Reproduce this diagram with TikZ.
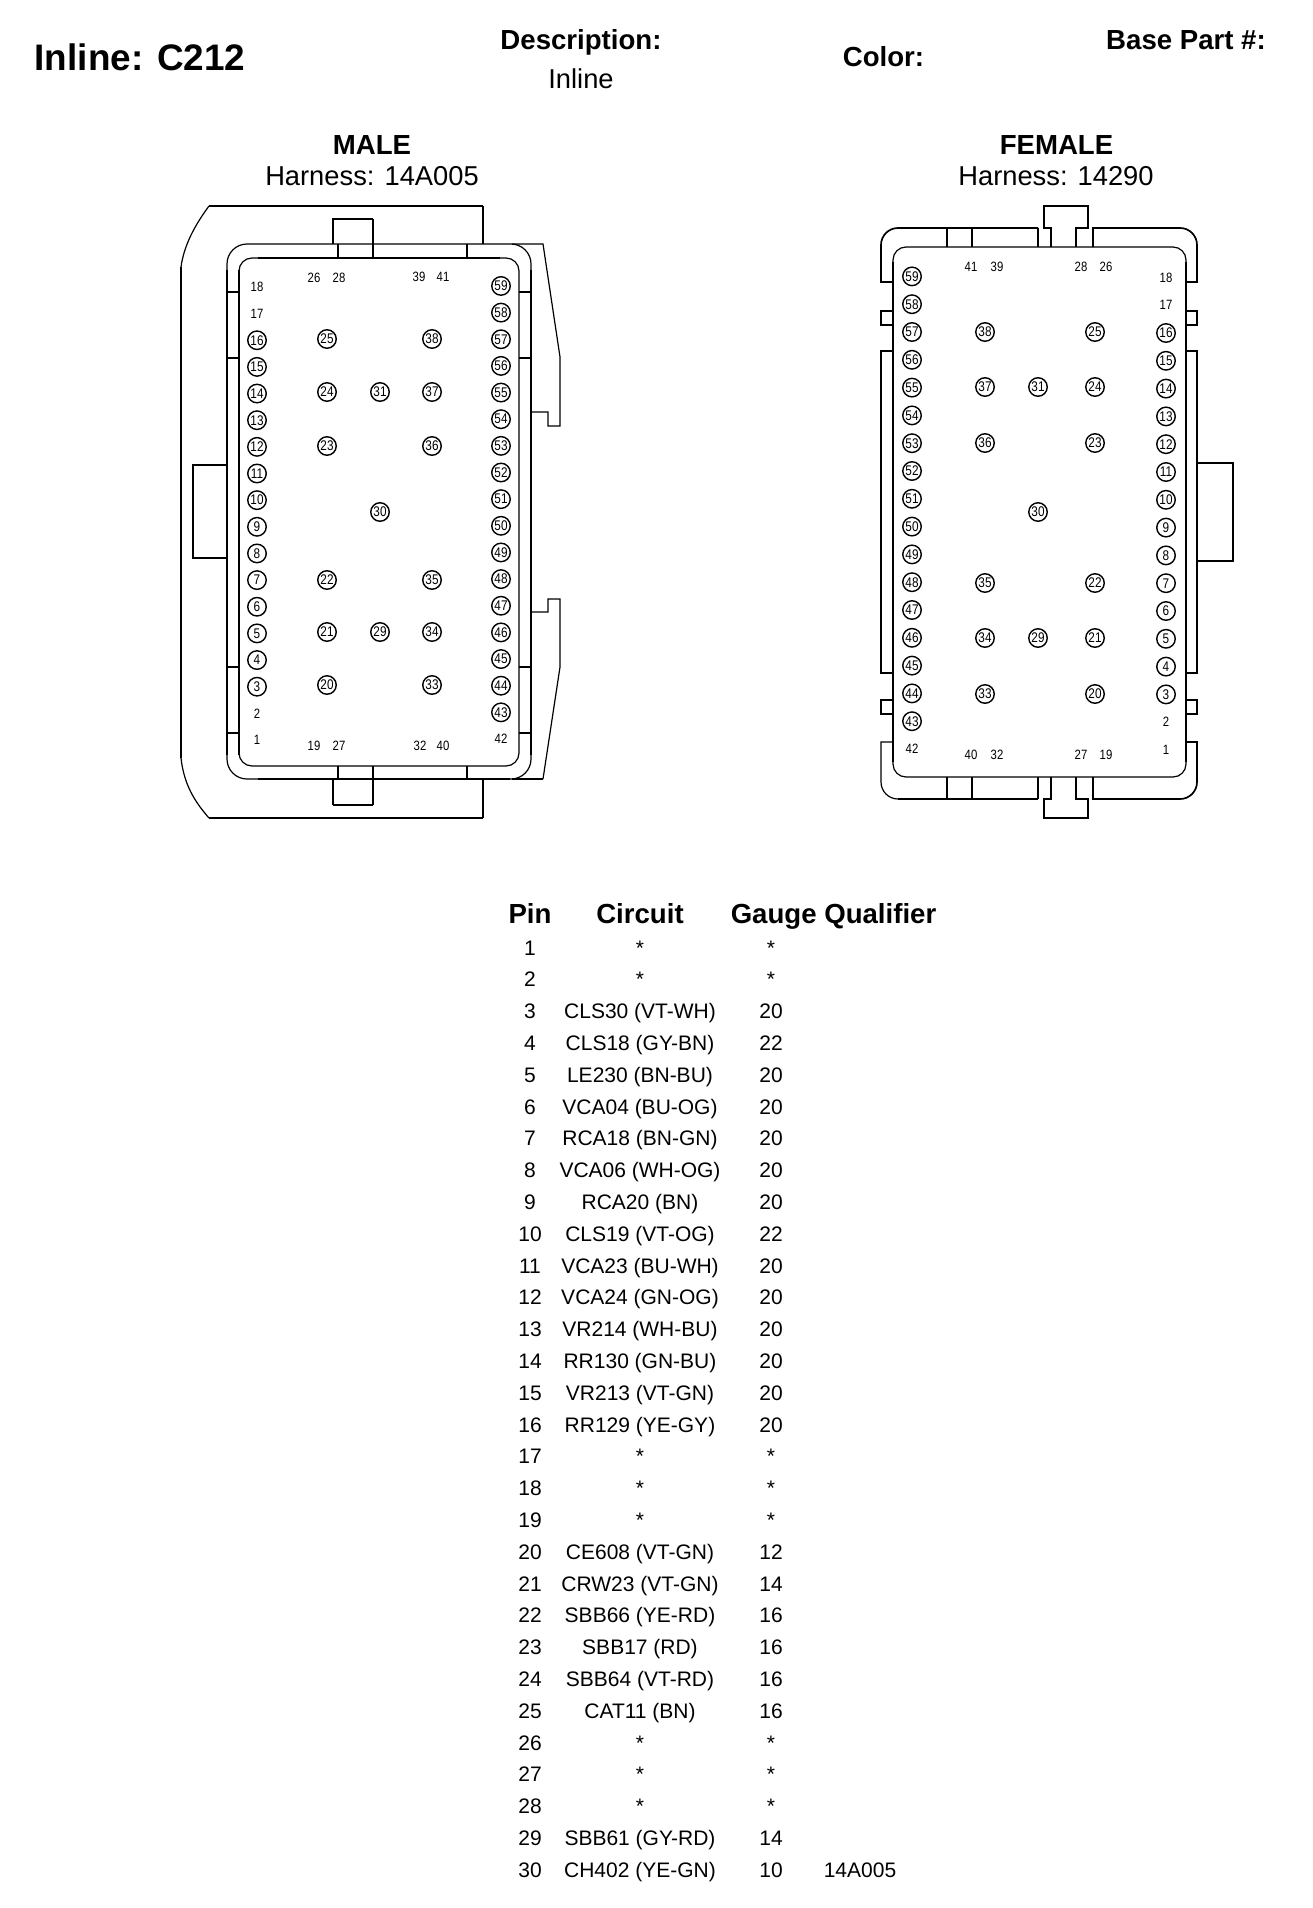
\documentclass[tikz,border=0pt]{standalone}
\usepackage{fontspec}
\usepackage{graphicx}
\setmainfont{Liberation Sans}
\newcommand{\fsz}[1]{\fontsize{#1}{#1}\selectfont}
\newcommand{\pintxt}[1]{\scalebox{0.84}[1]{#1}}
\tikzset{
  lbl/.style={inner sep=0pt,anchor=base},
  titletxt/.style={lbl,font=\fsz{36.9}\bfseries},
  headtxt/.style={lbl,font=\fsz{27.6}\bfseries},
  subtxt/.style={lbl,font=\fsz{27.3}},
  celltxt/.style={lbl,font=\fsz{21}},
  pinplain/.style={inner sep=0pt,font=\fsz{13.5}},
  pinring/.style={circle,draw,line width=1.4pt,minimum size=18.5pt,inner sep=0pt,font=\fsz{14}},
  ln/.style={line width=1.2pt,line join=miter},
  lnm/.style={line width=1.7pt,line join=miter},
  lnb/.style={line width=2.2pt,line join=miter},
}
\begin{document}
\begin{tikzpicture}[x=1pt,y=-1pt]
\useasboundingbox (0,0) rectangle (1312,1908);
% headers
\node[titletxt] (title) at (140,71) {Inline: C212};
\node[headtxt] (desc) at (581,50) {Description:};
\node[subtxt] (inl) at (581,89) {Inline};
\node[headtxt] (col) at (883.5,67) {Color:};
\node[headtxt] (base) at (1186,50) {Base Part \#:};
\node[headtxt] (male) at (372,154) {MALE};
\node[subtxt] (mh) at (372,185) {Harness: 14A005};
\node[headtxt] (female) at (1056.5,154) {FEMALE};
\node[subtxt] (fh) at (1056,185) {Harness: 14290};

% ===== MALE =====
\draw[lnm] (209,206) -- (483,206);
\draw[ln] (483,206) -- (483,244);
\draw[ln] (209,206) .. controls (195,225) and (184,245) .. (181,267);
\draw[lnb] (181,267) -- (181,758);
\draw[ln] (181,758) .. controls (184,785) and (195,802) .. (209,818);
\draw[lnm] (209,818) -- (483,818);
\draw[ln] (483,818) -- (483,780);
\draw[lnm] (333,244) -- (333,219) -- (373,219);
\draw[ln] (373,219) -- (373,258);
\draw[ln] (333,780) -- (333,805);
\draw[lnm] (333,805) -- (373,805);
\draw[ln] (373,805) -- (373,766);
\draw[ln] (338,244) -- (338,258);
\draw[lnb] (467,244) -- (467,258);
\draw[ln] (338,766) -- (338,779);
\draw[lnb] (467,766) -- (467,779);
\draw[ln,rounded corners=20pt] (227,244) rectangle (531,779);
\draw[ln,rounded corners=13pt] (239,258) rectangle (519,766);
\draw[lnb] (227,270) -- (227,755) (239,270) -- (239,755) (531,270) -- (531,755);
\draw[lnb] (258,258) -- (500,258) (258,779) -- (510,779);
\draw[ln] (227,292) -- (239,292) (227,667) -- (239,667) (227,733) -- (239,733);
\draw[lnm] (227,358) -- (239,358);
\draw[ln] (519,292) -- (531,292) (519,667) -- (531,667) (519,733) -- (531,733);
\draw[lnm] (519,358) -- (531,358);
\draw[ln] (512,244) -- (543,244) -- (560,357) -- (560,426) -- (548,426) -- (548,412) -- (531,412);
\draw[ln] (531,612) -- (548,612) -- (548,599) -- (560,599) -- (560,667) -- (543,779);
\draw[lnm] (543,779) -- (512,779);
\draw[lnm] (227,465) -- (193,465) -- (193,558) -- (227,558);

\foreach \n in {1,2,17,18} {
  \pgfmathsetmacro{\py}{740-(\n-1)*26.65}
  \node[pinplain] (m\n) at (257,\py) {\pintxt{\n}};
}
\foreach \n in {3,...,16} {
  \pgfmathsetmacro{\py}{740-(\n-1)*26.65}
  \node[pinring] (m\n) at (257,\py) {\pintxt{\n}};
}
\node[pinplain] (m42) at (501,739) {\pintxt{42}};
\foreach \n in {43,...,59} {
  \pgfmathsetmacro{\py}{739-(\n-42)*26.65}
  \node[pinring] (m\n) at (501,\py) {\pintxt{\n}};
}
\foreach \n/\px/\py in {25/327/339,24/327/392,23/327/446,22/327/580,21/327/632,20/327/685,
  31/380/392,30/380/512,29/380/632,
  38/432/339,37/432/392,36/432/446,35/432/580,34/432/632,33/432/685} {
  \node[pinring] (m\n) at (\px,\py) {\pintxt{\n}};
}
\foreach \n/\px/\py in {26/314/278,28/339/278,39/419/277,41/443/277,19/314/746,27/339/746,32/420/746,40/443/746} {
  \node[pinplain] (m\n) at (\px,\py) {\pintxt{\n}};
}

% ===== FEMALE =====
\draw[ln,rounded corners=13pt] (893,247) rectangle (1186,777);
\draw[lnb] (893,262) -- (893,762) (1186,262) -- (1186,762);
\draw[lnm] (893,282) -- (881,282) -- (881,245) .. controls (881,235.6) and (888.6,228) .. (898,228) -- (1038,228);
\draw[ln] (1038,228) -- (1038,247);
\draw[lnm] (1093,247) -- (1093,228) -- (1180,228) .. controls (1189.4,228) and (1197,235.6) .. (1197,245) -- (1197,282) -- (1186,282);
\draw[ln] (893,742) -- (881,742) -- (881,782) .. controls (881,791.4) and (888.6,799) .. (898,799);
\draw[lnm] (898,799) -- (1038,799);
\draw[ln] (1038,799) -- (1038,777);
\draw[lnm] (1093,777) -- (1093,799) -- (1180,799) .. controls (1189.4,799) and (1197,791.4) .. (1197,782) -- (1197,742) -- (1186,742);
\draw[lnm] (1051,247) -- (1051,228) -- (1044,228) -- (1044,206) -- (1088,206) -- (1088,228) -- (1076,228) -- (1076,247);
\draw[lnm] (1051,777) -- (1051,799) -- (1044,799) -- (1044,818) -- (1088,818) -- (1088,799) -- (1076,799) -- (1076,777);
\draw[lnb] (947,228) -- (947,247) (972,228) -- (972,247);
\draw[lnb] (947,777) -- (947,799) (972,777) -- (972,799);
\draw[ln] (893,311) -- (881,311) -- (881,325) -- (893,325);
\draw[ln] (1186,311) -- (1197,311) -- (1197,325) -- (1186,325);
\draw[ln] (893,700) -- (881,700) -- (881,714) -- (893,714);
\draw[ln] (1186,700) -- (1197,700) -- (1197,714) -- (1186,714);
\draw[ln] (893,351) -- (881,351) -- (881,673) -- (893,673);
\draw[ln] (1186,351) -- (1197,351) -- (1197,673) -- (1186,673);
\draw[lnb] (1197,463) -- (1233,463) -- (1233,561) -- (1197,561);

\foreach \n in {1,2,17,18} {
  \pgfmathsetmacro{\py}{750-(\n-1)*27.8}
  \node[pinplain] (f\n) at (1166,\py) {\pintxt{\n}};
}
\foreach \n in {3,...,16} {
  \pgfmathsetmacro{\py}{750-(\n-1)*27.8}
  \node[pinring] (f\n) at (1166,\py) {\pintxt{\n}};
}
\node[pinplain] (f42) at (912,749) {\pintxt{42}};
\foreach \n in {43,...,59} {
  \pgfmathsetmacro{\py}{749-(\n-42)*27.8}
  \node[pinring] (f\n) at (912,\py) {\pintxt{\n}};
}
\foreach \n/\px/\py in {38/985/332,37/985/387,36/985/443,35/985/583,34/985/638,33/985/694,
  31/1038/387,30/1038/512,29/1038/638,
  25/1095/332,24/1095/387,23/1095/443,22/1095/583,21/1095/638,20/1095/694} {
  \node[pinring] (f\n) at (\px,\py) {\pintxt{\n}};
}
\foreach \n/\px/\py in {41/971/267,39/997/267,28/1081/267,26/1106/267,40/971/755,32/997/755,27/1081/755,19/1106/755} {
  \node[pinplain] (f\n) at (\px,\py) {\pintxt{\n}};
}

% ===== TABLE =====
\node[headtxt] (hpin) at (530,923) {Pin};
\node[headtxt] (hcir) at (640,923) {Circuit};
\node[headtxt] (hgq) at (833.5,923) {Gauge Qualifier};
\foreach \n/\c/\g in {1/*/*,2/*/*,3/{CLS30 (VT-WH)}/20,4/{CLS18 (GY-BN)}/22,5/{LE230 (BN-BU)}/20,
  6/{VCA04 (BU-OG)}/20,7/{RCA18 (BN-GN)}/20,8/{VCA06 (WH-OG)}/20,9/{RCA20 (BN)}/20,10/{CLS19 (VT-OG)}/22,
  11/{VCA23 (BU-WH)}/20,12/{VCA24 (GN-OG)}/20,13/{VR214 (WH-BU)}/20,14/{RR130 (GN-BU)}/20,15/{VR213 (VT-GN)}/20,
  16/{RR129 (YE-GY)}/20,17/*/*,18/*/*,19/*/*,20/{CE608 (VT-GN)}/12,21/{CRW23 (VT-GN)}/14,22/{SBB66 (YE-RD)}/16,
  23/{SBB17 (RD)}/16,24/{SBB64 (VT-RD)}/16,25/{CAT11 (BN)}/16,26/*/*,27/*/*,28/*/*,29/{SBB61 (GY-RD)}/14,30/{CH402 (YE-GN)}/10} {
  \pgfmathsetmacro{\py}{955+(\n-1)*31.8}
  \node[celltxt] (p\n) at (530,\py) {\n};
  \node[celltxt] (c\n) at (640,\py) {\c};
  \node[celltxt] (g\n) at (771,\py) {\g};
}
\node[celltxt] (q30) at (860,1877) {14A005};
\end{tikzpicture}
\end{document}
